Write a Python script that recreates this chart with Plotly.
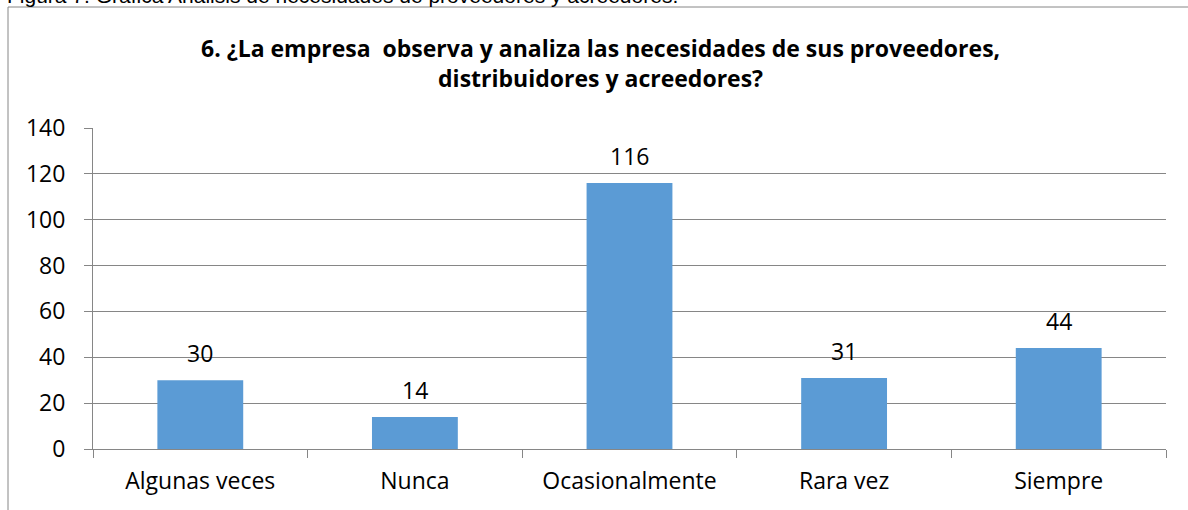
import plotly.graph_objects as go

categories = ["Algunas veces", "Nunca", "Ocasionalmente", "Rara vez", "Siempre"]
values = [30, 14, 116, 31, 44]
y_ticks = [0, 20, 40, 60, 80, 100, 120, 140]

title_text = ("<b>6. ¿La empresa  observa y analiza las necesidades de sus proveedores,"
              "<br>distribuidores y acreedores?</b>")
caption = "Figura 7. Gráfica Análisis de necesidades de proveedores y acreedores."

W, H = 1188, 510
L, R, T, B = 93, 1166, 128, 449
FONT = "Open Sans"

fig = go.Figure()
fig.add_trace(go.Bar(
    x=categories, y=values,
    marker=dict(color="#5B9BD5", line=dict(width=0)),
    hoverinfo="x+y",
))

for c, v in zip(categories, values):
    fig.add_annotation(
        x=c, y=v, xref="x", yref="y", text=str(v), showarrow=False,
        yanchor="middle", yshift=27,
        font=dict(family=FONT, size=23, color="#000000"),
    )

pw = R - L
ph = B - T


def px_x(x):
    return (x - L) / pw


def px_y(y):
    return (B - y) / ph


fig.update_layout(
    width=W, height=H,
    margin=dict(l=L, r=W - R, t=T, b=H - B, pad=0),
    plot_bgcolor="white", paper_bgcolor="white",
    bargap=0.6,
    showlegend=False,
    font=dict(family=FONT, color="#000000"),
    xaxis=dict(
        type="category",
        showline=True, linecolor="#868686", linewidth=1,
        ticks="outside", ticklen=8, tickcolor="#868686", tickson="boundaries",
        tickfont=dict(size=23, family=FONT, color="#000000"),
        ticklabelstandoff=11,
        showgrid=False,
    ),
    yaxis=dict(
        range=[0, 140], tickvals=y_ticks,
        showline=True, linecolor="#868686", linewidth=1,
        ticks="outside", ticklen=8, tickcolor="#868686",
        showgrid=True, gridcolor="#868686", gridwidth=1,
        tickfont=dict(size=23, family=FONT, color="#000000"),
        ticklabelstandoff=14,
        zeroline=False,
    ),
)

fig.add_annotation(
    text=title_text, xref="paper", yref="paper",
    x=px_x(600), y=px_y(63), xanchor="center", yanchor="middle",
    showarrow=False, align="center",
    font=dict(family=FONT, size=23, color="#000000"),
)

fig.add_annotation(
    text=caption, xref="paper", yref="paper",
    x=px_x(5), y=px_y(-5), xanchor="left", yanchor="middle",
    showarrow=False, align="left",
    font=dict(family="Liberation Sans", size=21, color="#000000"),
)

# outer chart border (left and top edges visible)
fig.add_shape(type="line", xref="paper", yref="paper",
              x0=px_x(8), x1=px_x(1188), y0=px_y(7), y1=px_y(7),
              line=dict(color="#868686", width=1))
fig.add_shape(type="line", xref="paper", yref="paper",
              x0=px_x(8), x1=px_x(8), y0=px_y(7), y1=px_y(510),
              line=dict(color="#868686", width=1))

fig.write_html("out.html", config={"displayModeBar": False},
               post_script="document.body.style.margin='0';")
